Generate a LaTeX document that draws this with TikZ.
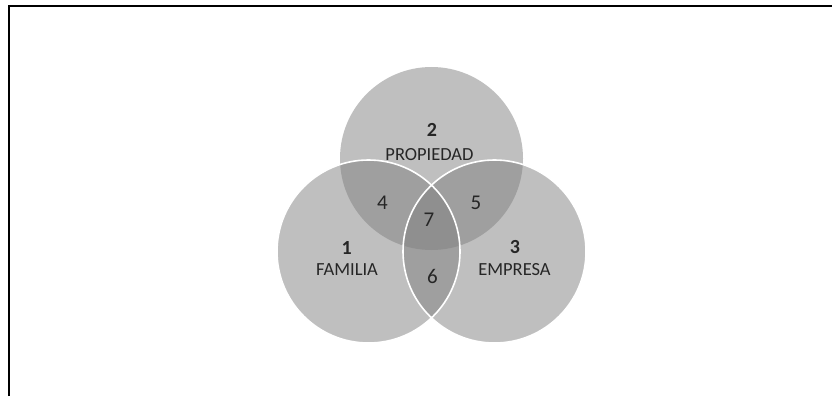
\documentclass[tikz,border=0pt]{standalone}
\usepackage{fontspec}
\setmainfont{Carlito}
\definecolor{txt}{HTML}{262626}
\tikzset{
  venn/.style={circle, minimum size=183pt, inner sep=0pt, fill=black!50, fill opacity=0.5, draw=none},
  rim/.style={circle, minimum size=183pt, inner sep=0pt, draw=white, line width=1.6pt},
  big/.style={text=txt, font=\fontsize{20}{20}\selectfont\bfseries, inner sep=0pt},
  num/.style={text=txt, font=\fontsize{21}{21}\selectfont, inner sep=0pt},
  lab/.style={text=txt, font=\fontsize{18.5}{18.5}\selectfont, inner sep=0pt},
}
\begin{document}
\begin{tikzpicture}[x=1pt,y=-1pt]
\useasboundingbox (0,0) rectangle (832,396);
\fill[white] (0,0) rectangle (832,396);
\draw[line width=2pt] (9,396) -- (9,6.5) -- (832,6.5);
% circles
\node[venn] (top) at (431.5,158.5) {};
\node[venn] (left) at (368.5,251.5) {};
\node[venn] (right) at (494.5,251.5) {};
\node[rim] (leftrim) at (left) {};
\node[rim] (rightrim) at (right) {};
% texts
\node[big] (n2) at (432,130) {2};
\node[lab] (l2) at (429.5,154.7) {PROPIEDAD};
\node[big] (n1) at (346.7,248) {1};
\node[lab] (l1) at (347,270) {FAMILIA};
\node[big] (n3) at (515,247.5) {3};
\node[lab] (l3) at (514.5,270) {EMPRESA};
\node[num] (n4) at (382.5,203) {4};
\node[num] (n5) at (476,202.5) {5};
\node[num] (n7) at (429,220) {7};
\node[num] (n6) at (432.5,276.5) {6};
\end{tikzpicture}
\end{document}
